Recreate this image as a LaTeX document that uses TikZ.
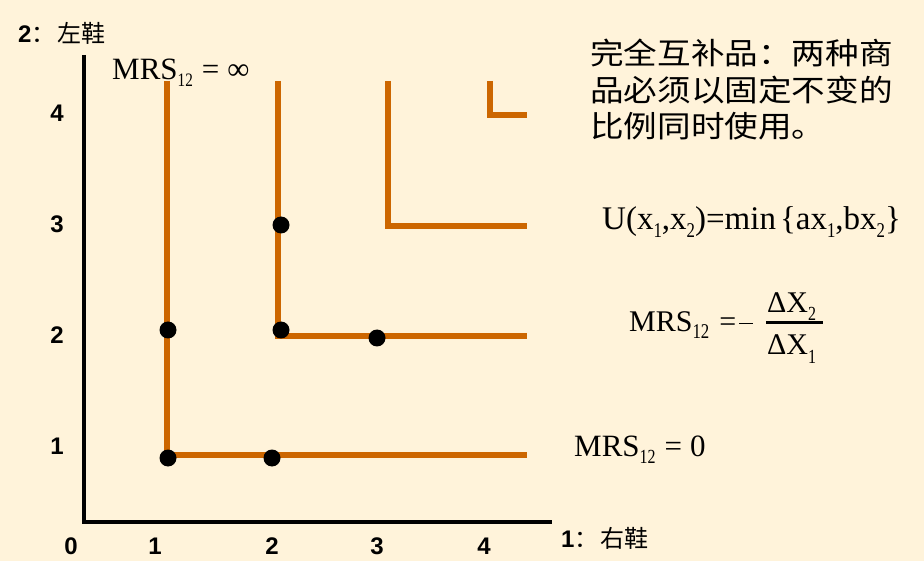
\documentclass[tikz,border=0pt]{standalone}
\usepackage{fontspec}
\usepackage{graphicx}
\setmainfont{Liberation Serif}
\newfontfamily\lsans{Liberation Sans}
\newfontfamily\cjk{Noto Sans CJK SC}
\definecolor{bgc}{RGB}{255,243,218}
\definecolor{curv}{RGB}{204,102,0}
\newcommand\fsz[1]{\fontsize{#1}{#1}\selectfont}
\newcommand\subs[3]{\raisebox{-#2pt}{\scalebox{0.8}[1]{\fsz{#1}#3}}}
\begin{document}
\begin{tikzpicture}[x=1pt,y=-1pt,
  tick/.style={inner sep=0pt, font=\lsans\bfseries\fsz{24}},
  txt/.style={inner sep=0pt, anchor=base west},
  curve/.style={draw=curv, line width=6pt, line join=miter},
  axis/.style={draw=black, line width=3.5pt, line join=miter},
  dot/.style={circle, fill=black, inner sep=0pt, minimum size=17pt}]
\fill[bgc] (0,0) rectangle (924,561);
\useasboundingbox (0,0) rectangle (924,561);
% axes
\coordinate (ytop) at (84,55);
\coordinate (o) at (84,522);
\coordinate (xend) at (552,522);
\draw[axis] (ytop) -- (o) -- (xend);
% indifference curves
\coordinate (c1t) at (167,81); \coordinate (c1c) at (167,455); \coordinate (c1r) at (527,455);
\coordinate (c2t) at (278,81); \coordinate (c2c) at (278,336); \coordinate (c2r) at (527,336);
\coordinate (c3t) at (388,81); \coordinate (c3c) at (388,226); \coordinate (c3r) at (527,226);
\coordinate (c4t) at (490,81); \coordinate (c4c) at (490,115); \coordinate (c4r) at (527,115);
\draw[curve] (c1t) -- (c1c) -- (c1r);
\draw[curve] (c2t) -- (c2c) -- (c2r);
\draw[curve] (c3t) -- (c3c) -- (c3r);
\draw[curve] (c4t) -- (c4c) -- (c4r);
% dots
\node[dot] (d1) at (168,330) {};
\node[dot] (d2) at (168,458) {};
\node[dot] (d3) at (272,458) {};
\node[dot] (d4) at (281,225) {};
\node[dot] (d5) at (281,330) {};
\node[dot] (d6) at (377,338) {};
% tick labels
\node[tick] (y4) at (57,113) {4};
\node[tick] (y3) at (57,224) {3};
\node[tick] (y2) at (57,335) {2};
\node[tick] (y1) at (57,446) {1};
\node[tick] (x0) at (71,546) {0};
\node[tick] (x1) at (155,546) {1};
\node[tick] (x2) at (272,546) {2};
\node[tick] (x3) at (377,546) {3};
\node[tick] (x4) at (484,546) {4};
% axis titles
\node[txt] (ylab) at (18,43) {{\lsans\bfseries\fsz{24}2}{\cjk\fsz{24}：\hspace{2pt}左鞋}};
\node[txt] (xlab) at (561,547) {{\lsans\bfseries\fsz{24}1}{\cjk\fsz{24}：\hspace{2pt}右鞋}};
% formulas
\node[txt, font=\fsz{31}] (minf) at (112,80) {MRS\subs{19}{7}{12}\hspace{9pt}=\hspace{8pt}∞};
\node[txt, font=\fsz{31}] (mzero) at (574,456) {MRS\subs{20}{7}{12}\hspace{9pt}=\hspace{8pt}0};
\node[txt, font=\fsz{30}] (mfrac) at (629,332) {MRS\subs{21}{7}{12}\hspace{10pt}=\hspace{3pt}\rule[7.6pt]{14pt}{1.5pt}};
\node[txt, font=\fsz{30}] (num) at (767,313) {ΔX\subs{20}{8}{2}};
\node[txt, font=\fsz{30}] (den) at (767,355) {ΔX\subs{20}{9}{1}};
\coordinate (fb1) at (766,323); \coordinate (fb2) at (823,323);
\draw[line width=3pt] (fb1) -- (fb2);
\node[txt, font=\fsz{33}] (ufun) at (602,230) {U(x\subs{21}{8}{1},x\subs{21}{8}{2})=min\hspace{4pt}\{ax\subs{21}{8}{1},bx\subs{21}{8}{2}\}};
% chinese text
\node[txt, font=\cjk\fsz{30}] (zh1) at (590,65) {\scalebox{1.12}[1]{完全互补品：两种商}};
\node[txt, font=\cjk\fsz{30}] (zh2) at (590,101.5) {\scalebox{1.12}[1]{品必须以固定不变的}};
\node[txt, font=\cjk\fsz{30}] (zh3) at (590,138) {\scalebox{1.12}[1]{比例同时使用。}};
\end{tikzpicture}
\end{document}
